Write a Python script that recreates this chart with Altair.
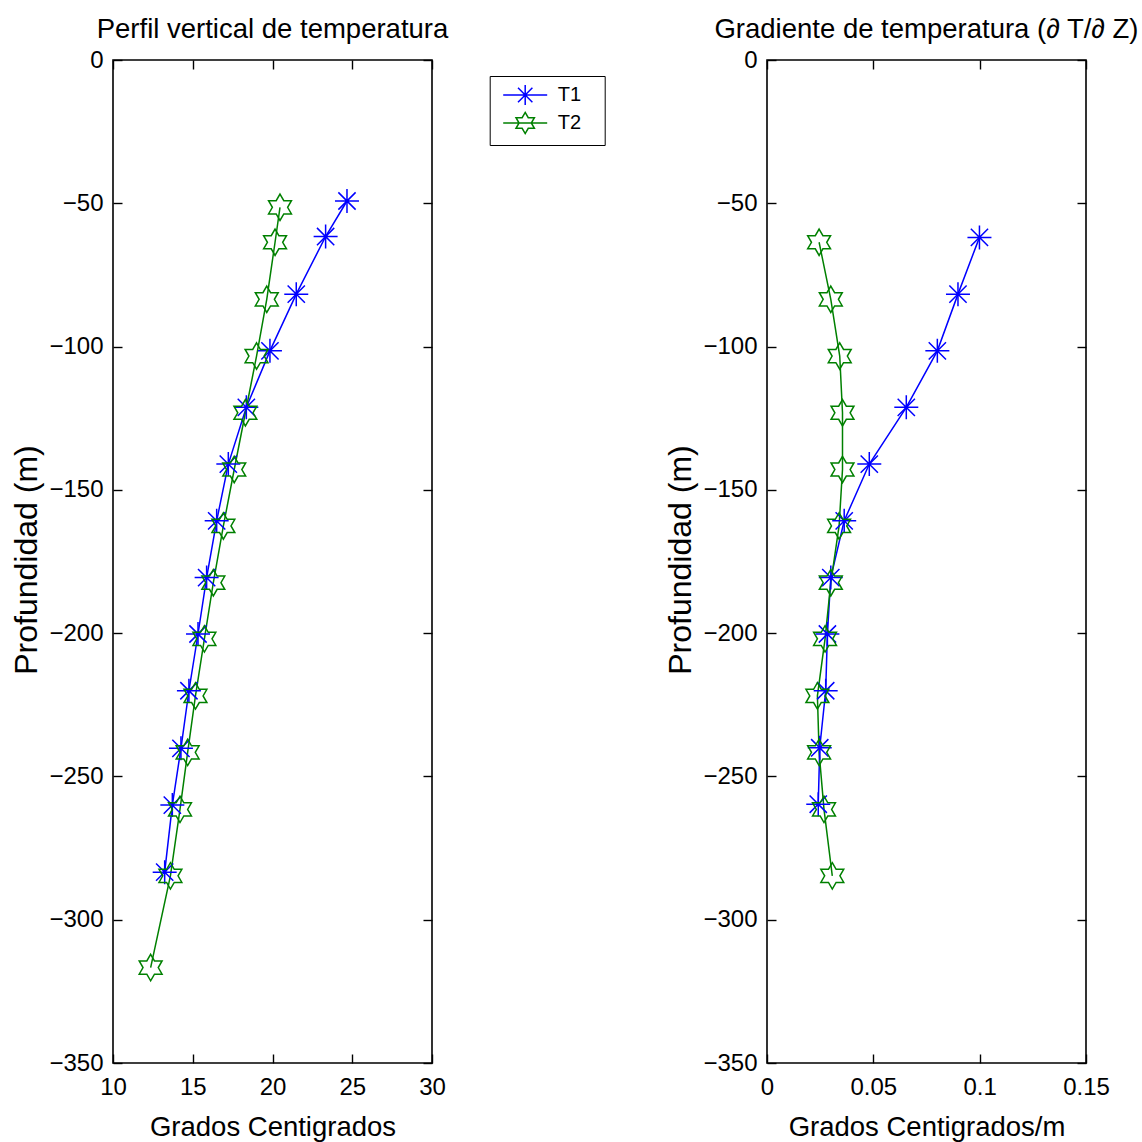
import altair as alt
import pandas as pd

# ---------------- data ----------------
series_names = ["T1", "T2"]
series_colors = ["#0000ff", "#008000"]

t1_depth = [-49.2, -61.6, -81.7, -101.5, -121.2, -141.0, -160.8, -180.6, -200.3, -220.1, -240.2, -260.0, -283.4]
t1_temp = [24.67, 23.33, 21.49, 19.84, 18.36, 17.23, 16.50, 15.87, 15.33, 14.76, 14.26, 13.72, 13.24]
t2_depth = [-51.4, -63.6, -83.5, -103.3, -123.1, -142.9, -162.6, -182.4, -202.0, -221.9, -241.6, -261.5, -284.7, -316.7]
t2_temp = [20.47, 20.16, 19.64, 19.00, 18.30, 17.60, 16.92, 16.29, 15.73, 15.17, 14.68, 14.20, 13.60, 12.36]

g1_depth = [-61.9, -81.7, -101.5, -121.2, -141.0, -160.8, -180.6, -200.3, -220.1, -240.0, -259.7]
g1_val = [0.0999, 0.0898, 0.0801, 0.0655, 0.0481, 0.0363, 0.0300, 0.0284, 0.0276, 0.0248, 0.0241]
g2_depth = [-63.6, -83.5, -103.3, -123.1, -142.9, -162.6, -182.4, -202.0, -221.9, -241.6, -261.5, -284.7]
g2_val = [0.0245, 0.0300, 0.0342, 0.0355, 0.0355, 0.0339, 0.0300, 0.0273, 0.0237, 0.0245, 0.0268, 0.0307]

y_ticks = [-350, -300, -250, -200, -150, -100, -50, 0]
x1_ticks = [10, 15, 20, 25, 30]
x2_ticks = [0, 0.05, 0.1, 0.15]

title_left = "Perfil vertical de temperatura"
title_right = "Gradiente de temperatura (∂ T/∂ Z)"
xlabel_left = "Grados Centigrados"
xlabel_right = "Grados Centigrados/m"
ylabel = "Profundidad (m)"


def frame(xs1, ys1, xs2, ys2):
    rows = []
    for i, (x, y) in enumerate(zip(xs1, ys1)):
        rows.append({"serie": "T1", "x": x, "depth": y, "idx": i})
    for i, (x, y) in enumerate(zip(xs2, ys2)):
        rows.append({"serie": "T2", "x": x, "depth": y, "idx": i})
    return pd.DataFrame(rows)


df_left = frame(t1_temp, t1_depth, t2_temp, t2_depth)
df_right = frame(g1_val, g1_depth, g2_val, g2_depth)

# ---------------- marker shapes (unit SVG paths) ----------------
AST = "M-1,0L1,0M0,-1L0,1M-0.72,-0.72L0.72,0.72M-0.72,0.72L0.72,-0.72"
HEX = ("M0,-1.1L0.318,-0.55L0.953,-0.55L0.635,0L0.953,0.55L0.318,0.55"
       "L0,1.1L-0.318,0.55L-0.953,0.55L-0.635,0L-0.953,-0.55L-0.318,-0.55Z")
LEG_AST = ("M-0.55,0L3.85,0M1.65,-1L1.65,1M0.93,-0.72L2.37,0.72"
           "M0.93,0.72L2.37,-0.72")
LEG_HEX = ("M1.65,-1.06L1.956,-0.53L2.568,-0.53L2.262,0L2.568,0.53L1.956,0.53"
           "L1.65,1.06L1.344,0.53L0.732,0.53L1.038,0L0.732,-0.53L1.344,-0.53Z"
           "M-0.55,0L3.85,0")

FONT = "Liberation Sans"
PW, PH = 319, 1003


def panel(df, xdomain, xvalues, xfmt, xtitle, title, with_legend):
    xs = alt.Scale(domain=xdomain, nice=False, zero=False)
    ys = alt.Scale(domain=[-350, 0], nice=False, zero=False)
    cscale = alt.Scale(domain=series_names, range=series_colors)
    sscale = alt.Scale(domain=series_names, range=[AST, HEX])
    base = alt.Chart(df)

    lab_x = alt.Axis(orient="bottom", values=xvalues, format=xfmt, ticks=False, tickSize=0,
                     domain=False, grid=False, labelFontSize=24, labelPadding=12.5,
                     labelFlush=False, labelOverlap=False,
                     title=xtitle, titleFontSize=27.5, titleX=PW / 2, titleY=72.7,
                     titleBaseline="alphabetic", titleAlign="center", titleAngle=0)
    lab_y = alt.Axis(orient="left", values=y_ticks, format="d", ticks=False, tickSize=0,
                     domain=False, grid=False, labelFontSize=24, labelPadding=10,
                     labelFlush=False, labelOverlap=False,
                     title=ylabel, titleFontSize=32, titleX=-77, titleY=PH / 2 - 2,
                     titleBaseline="alphabetic", titleAlign="center", titleAngle=270)

    def tick_axis(orient, values):
        return alt.Axis(orient=orient, values=values, offset=-9, tickSize=9, tickWidth=1.4,
                        tickColor="black", labels=False, domain=False, grid=False, title=None)

    line = base.mark_line(strokeWidth=1.5).encode(
        x=alt.X("x:Q", scale=xs, axis=lab_x),
        y=alt.Y("depth:Q", scale=ys, axis=lab_y),
        color=alt.Color("serie:N", scale=cscale, legend=None),
        order=alt.Order("idx:Q"),
    )
    points = base.mark_point(filled=False, size=576, strokeWidth=1.5, opacity=1).encode(
        x=alt.X("x:Q", scale=xs, axis=tick_axis("bottom", xvalues)),
        y=alt.Y("depth:Q", scale=ys, axis=tick_axis("left", y_ticks)),
        color=alt.Color("serie:N", scale=cscale, legend=None),
        shape=alt.Shape("serie:N", scale=sscale, legend=None),
    )
    ghost = base.mark_point(opacity=0).encode(
        x=alt.X("x:Q", scale=xs, axis=tick_axis("top", xvalues)),
        y=alt.Y("depth:Q", scale=ys, axis=tick_axis("right", y_ticks)),
    )
    layers = [line, points, ghost]
    if with_legend:
        leg = alt.Legend(title=None, orient="none", legendX=376.7, legendY=16, padding=8,
                         strokeColor="black", fillColor="white", cornerRadius=0,
                         symbolSize=400, symbolStrokeWidth=1.5, symbolFillColor="transparent",
                         labelFontSize=20, labelOffset=38, rowPadding=1,
                         labelExpr="datum.label + '\u2800'")
        legend_layer = base.transform_filter("datum.serie == 'none'").mark_point(
            filled=False, strokeWidth=1.5, opacity=1).encode(
            color=alt.Color("serie:N", scale=cscale, legend=leg),
            shape=alt.Shape("serie:N", scale=alt.Scale(domain=series_names,
                                                       range=[LEG_AST, LEG_HEX]), legend=leg),
        )
        layers.append(legend_layer)
    return alt.layer(*layers).resolve_scale(
        color="independent", shape="independent"
    ).resolve_axis(x="independent", y="independent").properties(
        width=PW, height=PH,
        title=alt.TitleParams(title, frame="group", anchor="middle", offset=12, dy=29,
                              baseline="alphabetic", fontSize=27.5),
    )


left = panel(df_left, [10, 30], x1_ticks, "d", xlabel_left, title_left, True)
right = panel(df_right, [0, 0.15], x2_ticks, ".2~g", xlabel_right, title_right, False)

chart = alt.hconcat(left, right, spacing=335, bounds="flush").properties(
    autosize=alt.AutoSizeParams(type="none"),
    padding={"left": 113, "top": 60, "right": 1029, "bottom": 1082},
).configure(font=FONT).configure_axis(
    labelFont=FONT, titleFont=FONT, labelColor="black", titleColor="black",
    titleFontWeight="normal",
).configure_title(
    font=FONT, color="black", fontWeight="normal",
).configure_legend(
    labelFont=FONT, labelColor="black",
).configure_view(
    stroke="black", strokeWidth=1.6,
)

chart.save("out.html", embed_options={"renderer": "svg", "actions": False})
